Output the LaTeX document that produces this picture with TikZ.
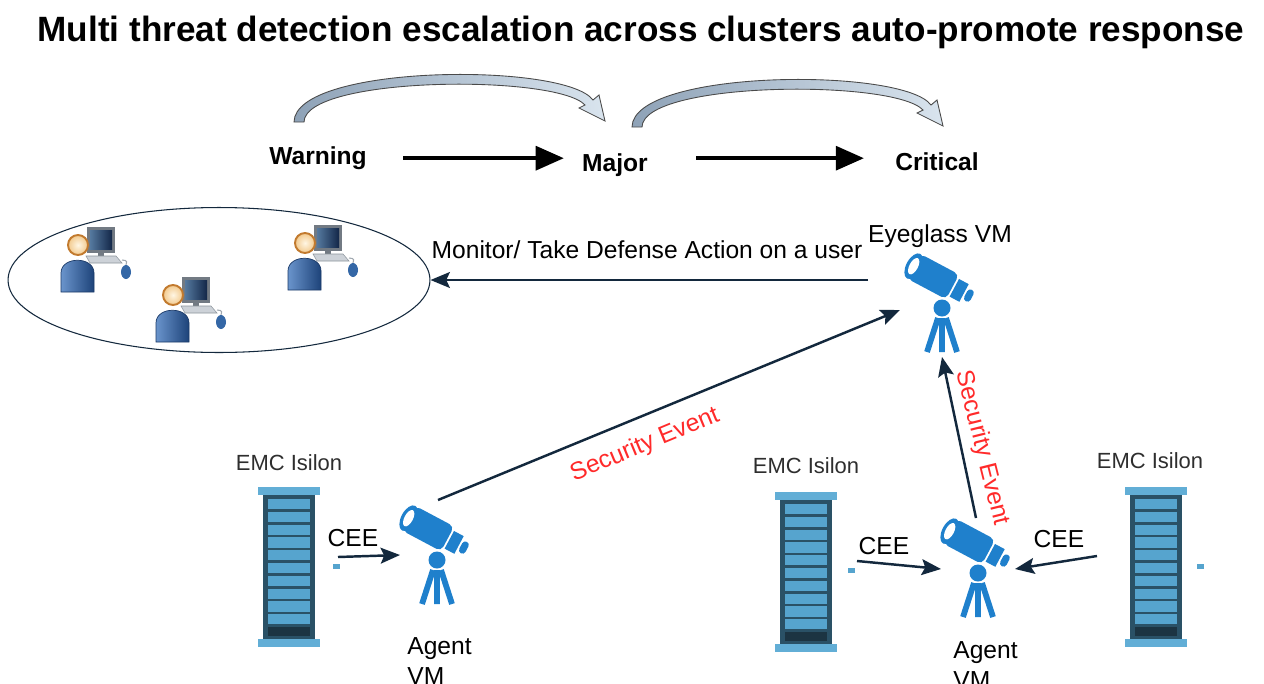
\documentclass[tikz,border=0pt]{standalone}
\usepackage{fontspec}
\setmainfont{Liberation Sans}
\usetikzlibrary{arrows.meta,shapes.geometric}

\definecolor{navy}{HTML}{13283D}
\definecolor{scopeblue}{HTML}{1F80CC}
\definecolor{rackcap}{HTML}{62AED6}
\definecolor{rackbody}{HTML}{2A5166}
\definecolor{rackslot}{HTML}{56A4CE}
\definecolor{rackdark}{HTML}{1C3442}
\definecolor{monframe}{HTML}{727A83}
\definecolor{evred}{HTML}{FF2A2A}
\definecolor{labelgray}{HTML}{2E2E2E}
\definecolor{bandline}{HTML}{4A4A4A}
\definecolor{bandleft}{HTML}{8EA2B7}
\definecolor{bandright}{HTML}{D9E4EE}
\definecolor{screenlight}{HTML}{55799F}
\definecolor{screendark}{HTML}{132748}
\definecolor{keyfill}{HTML}{CDD2D8}
\definecolor{keyline}{HTML}{8C949C}
\definecolor{cord}{HTML}{A0A8B0}
\definecolor{mouseblue}{HTML}{3467A6}
\definecolor{bodylight}{HTML}{6A94CC}
\definecolor{bodydark}{HTML}{1D4379}
\definecolor{bodyline}{HTML}{1B3A68}
\definecolor{facelight}{HTML}{FFF6E4}
\definecolor{facedark}{HTML}{F2C98C}
\definecolor{faceline}{HTML}{C27A2E}

\tikzset{
  txt/.style={inner sep=0pt, font=\fontsize{14}{17}\selectfont},
  title/.style={inner sep=0pt, font=\fontsize{20}{24}\selectfont\bfseries},
  level/.style={inner sep=0pt, font=\fontsize{14}{17}\selectfont\bfseries, anchor=base},
  rackname/.style={inner sep=0pt, font=\fontsize{12.5}{15}\selectfont, text=labelgray},
  evlabel/.style={inner sep=0pt, font=\fontsize{14}{17}\selectfont, text=evred},
  bigarrow/.style={line width=2.3pt, -{Triangle[length=16pt, width=13.5pt]}},
  flow/.style={navy, line width=1.4pt, -{Stealth[length=11pt, width=9pt, inset=2pt]}},
  % shaded curved escalation arrow, drawn from its own origin
  risearrow/.pic={
    \shadedraw[left color=bandleft, right color=bandright, draw=bandline, line width=0.5pt]
      (-5,0) .. controls (-4,-58) and (266,-60) .. (294,-22)
      -- (300,-27) -- (306,-1) -- (280,-14) -- (286,-17)
      .. controls (257,-48) and (6,-46) .. (5,0) -- cycle;
  },
  % telescope icon, origin at the tripod head
  telescope/.pic={
    \draw[scopeblue, line width=3.3pt] (-4,10) -- (-15,44) (0,10) -- (0,44) (4,10) -- (15,44);
    \fill[scopeblue] (0,0) circle (8.5);
    \begin{scope}[shift={(-8,-31)}, rotate=-28]
      \fill[scopeblue, rounded corners=3] (-23,-14) rectangle (21,14);
      \fill[scopeblue] (-23,0) ellipse [x radius=7.5, y radius=14];
      \fill[white] (-23,0) ellipse [x radius=4.3, y radius=9];
      \fill[scopeblue] (23,-10) rectangle (34,10);
      \fill[scopeblue, rounded corners=2] (36,-6.5) rectangle (43,6.5);
    \end{scope}
  },
  % storage rack, origin at the top-left corner
  rack/.pic={
    \fill[rackcap] (0,0) rectangle (62,8);
    \fill[rackbody] (5,8) rectangle (57,152);
    \foreach \i in {0,...,9}
      \fill[rackslot] (10,{12+\i*12.8}) rectangle (52,{22.2+\i*12.8});
    \fill[rackdark] (10,140) rectangle (52,149);
    \fill[rackcap] (0,152) rectangle (62,160);
  },
  % workstation user, origin at the centre of the head
  user/.pic={
    \fill[monframe] (9,-18) rectangle (37,8);
    \shade[left color=screenlight, right color=screendark] (12,-15) rectangle (34,4);
    \fill[monframe] (20,8) rectangle (26,11);
    \filldraw[fill=keyfill, draw=keyline, line width=0.3pt]
      (8,11) -- (38,11) -- (44,18) -- (12,18) -- cycle;
    \draw[cord, line width=0.6pt] (44,15) .. controls (50,15) and (49,18) .. (48,20);
    \fill[mouseblue] (48,27) ellipse [x radius=5, y radius=7];
    \shadedraw[left color=bodylight, right color=bodydark, draw=bodyline, line width=0.4pt]
      (-17,47) -- (-17,28) .. controls (-17,11) and (16,11) .. (16,28) -- (16,47) -- cycle;
    \shadedraw[inner color=facelight, outer color=facedark, draw=faceline, line width=1.1pt]
      (0,0) circle (10);
  }
}

\begin{document}
\begin{tikzpicture}[x=0.02cm, y=-0.02cm]
  \useasboundingbox[fill=white] (0,0) rectangle (1264,683);

  % heading
  \node[title] (ttl) at (641,32) {Multi threat detection escalation across clusters auto-promote response};

  % escalation levels
  \node[level] (warn) at (318,164.5) {Warning};
  \node[level] (major) at (615,171) {Major};
  \node[level] (crit) at (937,170) {Critical};
  \draw[bigarrow, shorten <=0.72cm, shorten >=0.36cm] (warn.east) -- (warn.east -| major.west);
  \draw[bigarrow, shorten <=0.96cm, shorten >=0.62cm] (warn.east -| major.east) -- (warn.east -| crit.west);
  \pic at (299,122) {risearrow};
  \pic at (637,127) {risearrow};

  % group of monitored users
  \node[ellipse, draw=navy, line width=0.6pt, minimum width=8.44cm, minimum height=2.9cm, inner sep=0pt] (grp) at (219,280) {};
  \pic at (78,245) {user};
  \pic at (305,243) {user};
  \pic at (173,295) {user};

  % Eyeglass VM
  \node[txt] (eyelbl) at (940,236) {Eyeglass VM};
  \pic at (942,308) {telescope};
  \coordinate (eyeout) at (868,280);
  \coordinate (eyeside) at (900,310);
  \coordinate (eyebase) at (942,357);

  \draw[flow] (eyeout) -- (grp.east);
  \node[txt] (monlbl) at (647,250) {Monitor/ Take Defense Action on a user};

  % agent 1 with its cluster
  \pic at (437,560) {telescope};
  \node[txt, anchor=north west, align=left] (ag1lbl) at (407,637) {Agent\\VM};
  \coordinate (ag1top) at (438,500);
  \coordinate (ag1in) at (400,555);
  \pic at (258,487) {rack};
  \node[rackname] (rk1lbl) at (289,463) {EMC Isilon};
  \fill[rackslot] (333,564) rectangle (340,569);
  \coordinate (rk1out) at (338,557);
  \draw[flow] (rk1out) -- (ag1in);
  \node[txt] (cee1) at (353,538) {CEE};

  % agent 2 with its two clusters
  \pic at (978,573) {telescope};
  \node[txt, anchor=north west, align=left] (ag2lbl) at (953,641) {Agent\\VM};
  \coordinate (ag2top) at (976,518);
  \coordinate (ag2inl) at (941,569);
  \coordinate (ag2inr) at (1015,569);
  \pic at (775,492) {rack};
  \node[rackname] (rk2lbl) at (806,466) {EMC Isilon};
  \fill[rackslot] (848,568) rectangle (855,573);
  \coordinate (rk2out) at (857,561);
  \pic at (1125,487) {rack};
  \node[rackname] (rk3lbl) at (1150,461) {EMC Isilon};
  \fill[rackslot] (1197,564) rectangle (1204,569);
  \coordinate (rk3out) at (1097,556);
  \draw[flow] (rk2out) -- (ag2inl);
  \draw[flow] (rk3out) -- (ag2inr);
  \node[txt] (cee2) at (884,546) {CEE};
  \node[txt] (cee3) at (1059,539) {CEE};

  % security events towards Eyeglass
  \draw[flow] (ag1top) -- (eyeside);
  \draw[flow] (ag2top) -- (eyebase);
  \node[evlabel, rotate=22.5] (ev1) at (645,445) {Security Event};
  \node[evlabel, rotate=-76] (ev2) at (982,448) {Security Event};
\end{tikzpicture}
\end{document}
